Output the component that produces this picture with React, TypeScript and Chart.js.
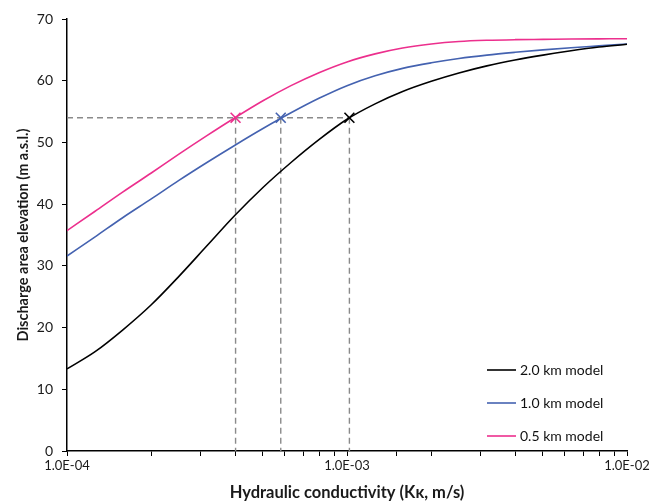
import { useEffect, useRef } from 'react';
import { Chart, registerables } from 'chart.js';

Chart.register(...registerables);

// Hydraulic conductivity (m/s), read at tenth-of-a-decade steps
const kValues = [
  1.0e-4, 1.26e-4, 1.58e-4, 2.0e-4, 2.51e-4, 3.16e-4, 3.98e-4, 5.01e-4, 6.31e-4, 7.94e-4,
  1.0e-3, 1.26e-3, 1.58e-3, 2.0e-3, 2.51e-3, 3.16e-3, 3.98e-3, 5.01e-3, 6.31e-3, 7.94e-3, 1.0e-2,
];
// Discharge area elevation (m a.s.l.)
const model20 = [
  13.3, 16.1, 19.6, 23.7, 28.3, 33.25, 38.2, 42.7, 46.75, 50.45,
  53.75, 56.25, 58.25, 59.9, 61.25, 62.4, 63.35, 64.15, 64.85, 65.45, 65.9,
];
const model10 = [
  31.6, 34.7, 37.8, 40.85, 43.85, 46.75, 49.55, 52.25, 54.8, 57.15,
  59.2, 60.8, 62.0, 62.9, 63.6, 64.15, 64.6, 65.0, 65.35, 65.65, 65.95,
];
const model05 = [
  35.7, 38.85, 41.95, 45.05, 48.1, 51.1, 54.0, 56.75, 59.2, 61.3,
  63.05, 64.35, 65.3, 65.95, 66.35, 66.55, 66.65, 66.7, 66.75, 66.78, 66.8,
];

const seriesNames = ['2.0 km model', '1.0 km model', '0.5 km model'];
const seriesColors = ['#000000', '#4462B0', '#EC2F8D'];
// where each model reaches the target elevation
const targetK = [1.02e-3, 5.8e-4, 4.0e-4];
const targetElevation = 54;

const xMin = 1e-4;
const xMax = 1e-2;
const yMin = 0;
const yMax = 70;
const yStep = 10;

const FONT = 'Lato, "Open Sans", "Liberation Sans", sans-serif';

function fmtK(v: number): string {
  const e = Math.round(Math.log10(v));
  const sign = e < 0 ? '-' : '+';
  return `1.0E${sign}${String(Math.abs(e)).padStart(2, '0')}`;
}

const legendPlugin = {
  id: 'customLegend',
  afterDraw(chart: any) {
    const { ctx, chartArea } = chart;
    ctx.save();
    ctx.font = `14px ${FONT}`;
    ctx.textBaseline = 'middle';
    ctx.textAlign = 'left';
    const x0 = chartArea.right - 140;
    const y0 = chartArea.bottom - 81;
    seriesNames.forEach((name, i) => {
      const y = y0 + i * 33;
      ctx.strokeStyle = seriesColors[i];
      ctx.lineWidth = 1.6;
      ctx.beginPath();
      ctx.moveTo(x0, y);
      ctx.lineTo(x0 + 29, y);
      ctx.stroke();
      ctx.fillStyle = '#111';
      ctx.fillText(name, x0 + 33, y);
    });
    ctx.restore();
  },
};

export default function App() {
  const canvasRef = useRef<HTMLCanvasElement | null>(null);

  useEffect(() => {
    if (!canvasRef.current) return;
    const seriesData = [model20, model10, model05];
    const curveSets = seriesData.map((vals, i) => ({
      label: seriesNames[i],
      data: kValues.map((k, j) => ({ x: k, y: vals[j] })),
      borderColor: seriesColors[i],
      backgroundColor: seriesColors[i],
      borderWidth: 1.6,
      pointRadius: 0,
      cubicInterpolationMode: 'monotone' as const,
      fill: false,
      order: 2,
    }));
    const dashStyle = {
      borderColor: '#8a8a8a',
      borderWidth: 1.4,
      borderDash: [6, 4],
      pointRadius: 0,
      fill: false,
      order: 3,
    };
    const hLine = {
      label: 'guide-h',
      data: [
        { x: xMin, y: targetElevation },
        { x: Math.max(...targetK), y: targetElevation },
      ],
      ...dashStyle,
    };
    const vLines = targetK.map((k, i) => ({
      label: 'guide-v' + i,
      data: [
        { x: k, y: targetElevation },
        { x: k, y: yMin },
      ],
      ...dashStyle,
    }));
    const markers = targetK.map((k, i) => ({
      label: 'marker' + i,
      data: [{ x: k, y: targetElevation }],
      showLine: false,
      pointStyle: 'crossRot' as const,
      pointRadius: 7,
      pointBorderWidth: 1.6,
      borderColor: seriesColors[i],
      backgroundColor: seriesColors[i],
      order: 1,
    }));

    const chart = new Chart(canvasRef.current, {
      type: 'line',
      data: { datasets: [...curveSets, hLine, ...vLines, ...markers] as any },
      options: {
        animation: false,
        responsive: false,
        maintainAspectRatio: false,
        parsing: false as any,
        layout: { padding: { top: 19, right: 37, bottom: 0, left: 0 } },
        plugins: {
          legend: { display: false },
          tooltip: { enabled: false },
        },
        scales: {
          x: {
            type: 'logarithmic',
            min: xMin,
            max: xMax,
            afterFit: (scale: any) => {
              scale.height = 52;
            },
            border: { display: true, color: '#000', width: 1.5 },
            grid: {
              display: true,
              drawOnChartArea: false,
              drawTicks: true,
              tickLength: 5,
              tickColor: '#000',
              tickWidth: 1,
            },
            ticks: {
              autoSkip: false,
              maxRotation: 0,
              padding: 2,
              color: '#1a1a1a',
              font: { family: FONT, size: 13 },
              callback: (value: any) => {
                const v = Number(value);
                const l = Math.log10(v);
                return Math.abs(l - Math.round(l)) < 1e-6 ? fmtK(v) : '';
              },
            },
            title: {
              display: true,
              text: 'Hydraulic conductivity (Kκ, m/s)',
              color: '#1a1a1a',
              font: { family: FONT, size: 16.5, weight: 'bold' },
              padding: { top: 1, bottom: 0 },
            },
          },
          y: {
            type: 'linear',
            min: yMin,
            max: yMax,
            afterFit: (scale: any) => {
              scale.width = 67;
            },
            border: { display: true, color: '#000', width: 1.5 },
            grid: {
              display: true,
              drawOnChartArea: false,
              drawTicks: true,
              tickLength: 5,
              tickColor: '#000',
              tickWidth: 1,
            },
            ticks: {
              stepSize: yStep,
              padding: 9,
              color: '#1a1a1a',
              font: { family: FONT, size: 14 },
            },
            title: {
              display: true,
              text: 'Discharge area elevation (m a.s.l.)',
              color: '#1a1a1a',
              font: { family: FONT, size: 14.5, weight: 'bold' },
              padding: { top: 15, bottom: 0 },
            },
          },
        },
      },
      plugins: [legendPlugin],
    });
    return () => chart.destroy();
  }, []);

  return (
    <div style={{ position: 'absolute', left: 0, top: 0, width: 664, height: 503, background: '#fff' }}>
      <canvas ref={canvasRef} width={664} height={503} style={{ display: 'block' }} />
    </div>
  );
}
